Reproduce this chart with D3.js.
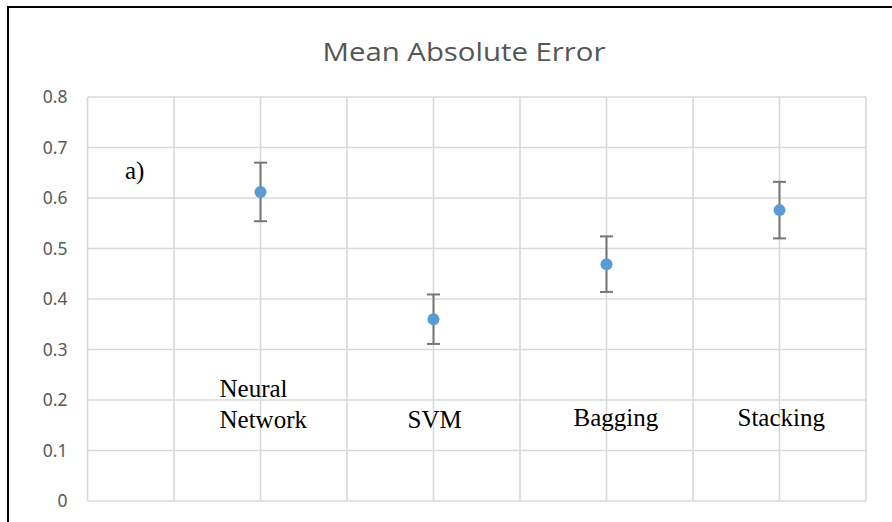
<!DOCTYPE html>
<html lang="en">
  <head>
    <meta charset="utf-8">
    <title>Mean Absolute Error</title>
    <style type="text/css">
      html, body { margin: 0; padding: 0; background: #fff; }
      svg { display: block; }
    </style>
  </head>
  <body>
    <script type="text/javascript" src="https://d3js.org/d3.v7.min.js"></script>
    <script type="text/javascript">
    // ===================================
    // DATA
    // ===================================
      var categories = ["Neural Network", "SVM", "Bagging", "Stacking"];
      var catX = [1, 2, 3, 4];
      var meanValues = [0.612, 0.360, 0.469, 0.576];
      var errValues = [0.058, 0.049, 0.055, 0.056];
      var yTicks = [0, 0.1, 0.2, 0.3, 0.4, 0.5, 0.6, 0.7, 0.8];
      var yTickLabels = ["0", "0.1", "0.2", "0.3", "0.4", "0.5", "0.6", "0.7", "0.8"];
      var labelLines = [["Neural", "Network"], ["SVM"], ["Bagging"], ["Stacking"]];

    // ===================================
    // LAYOUT
    // ===================================
      var w = 892, h = 522;
      var plotLeft = 87.5, plotRight = 866, plotTop = 97, plotBottom = 501;
      var labelDx = [-41, -26, -33, -42];   // text start relative to point
      var labelBase = [428, 428, 426, 426];
      var grey = "#595959";

      var svg = d3.select("body")
        .append("svg")
        .attr("width", w)
        .attr("height", h)
        .attr("viewBox", "0 0 " + w + " " + h);

      var x = d3.scaleLinear().domain([0, 4.5]).range([plotLeft, plotRight]);
      var y = d3.scaleLinear().domain([0, 0.8]).range([plotBottom, plotTop]);

      // outer frame
      svg.append("path")
        .attr("d", "M8,524 L8,7 L894,7")
        .attr("fill", "none")
        .attr("stroke", "#000")
        .attr("stroke-width", 2);

      // title
      svg.append("text")
        .attr("x", 464)
        .attr("y", 61)
        .attr("text-anchor", "middle")
        .attr("font-family", "'Open Sans', 'Noto Sans', sans-serif")
        .attr("font-size", 25)
        .attr("fill", "#555")
        .attr("textLength", 283)
        .attr("lengthAdjust", "spacingAndGlyphs")
        .text("Mean Absolute Error");

      // gridlines
      var grid = svg.append("g").attr("stroke", "#d9d9d9").attr("stroke-width", 1.6);
      grid.selectAll("line.h")
        .data(yTicks)
        .enter()
        .append("line")
        .attr("class", "h")
        .attr("x1", plotLeft).attr("x2", plotRight)
        .attr("y1", function(d) { return y(d); })
        .attr("y2", function(d) { return y(d); });
      grid.selectAll("line.v")
        .data(x.ticks(9))
        .enter()
        .append("line")
        .attr("class", "v")
        .attr("y1", plotTop).attr("y2", plotBottom)
        .attr("x1", function(d) { return x(d); })
        .attr("x2", function(d) { return x(d); });

      // y axis labels
      var yAxis = d3.axisLeft(y)
        .tickValues(yTicks)
        .tickFormat(function(d, i) { return yTickLabels[i]; })
        .tickSize(0)
        .tickPadding(20);
      var gy = svg.append("g")
        .attr("transform", "translate(" + plotLeft + ",0)")
        .call(yAxis);
      gy.select(".domain").remove();
      gy.selectAll("text")
        .attr("font-family", "'Noto Sans', 'Open Sans', sans-serif")
        .attr("font-size", 17.5)
        .attr("fill", grey);

      // error bars
      var bars = svg.append("g").attr("stroke", "#767676").attr("stroke-width", 2);
      bars.selectAll("line.stem")
        .data(meanValues)
        .enter()
        .append("line")
        .attr("class", "stem")
        .attr("x1", function(d, i) { return x(catX[i]); })
        .attr("x2", function(d, i) { return x(catX[i]); })
        .attr("y1", function(d, i) { return y(d + errValues[i]); })
        .attr("y2", function(d, i) { return y(d - errValues[i]); });
      [1, -1].forEach(function(s, k) {
        bars.selectAll("line.cap" + k)
          .data(meanValues)
          .enter()
          .append("line")
          .attr("class", "cap" + k)
          .attr("x1", function(d, i) { return x(catX[i]) - 6.5; })
          .attr("x2", function(d, i) { return x(catX[i]) + 6.5; })
          .attr("y1", function(d, i) { return y(d + s * errValues[i]); })
          .attr("y2", function(d, i) { return y(d + s * errValues[i]); });
      });

      // markers
      svg.selectAll("circle")
        .data(meanValues)
        .enter()
        .append("circle")
        .attr("cx", function(d, i) { return x(catX[i]); })
        .attr("cy", function(d) { return y(d); })
        .attr("r", 6)
        .attr("fill", "#5b9bd5");

      // category labels (Times)
      labelLines.forEach(function(lines, i) {
        lines.forEach(function(t, j) {
          svg.append("text")
            .attr("x", x(catX[i]) + labelDx[i])
            .attr("y", labelBase[i] - (lines.length - 1 - j) * 31)
            .attr("font-family", "'Liberation Serif', 'Times New Roman', serif")
            .attr("font-size", 25)
            .attr("fill", "#000")
            .text(t);
        });
      });

      svg.append("text")
        .attr("x", 125)
        .attr("y", 179)
        .attr("font-family", "'Liberation Serif', 'Times New Roman', serif")
        .attr("font-size", 25)
        .attr("fill", "#000")
        .text("a)");
    </script>
  </body>
</html>
